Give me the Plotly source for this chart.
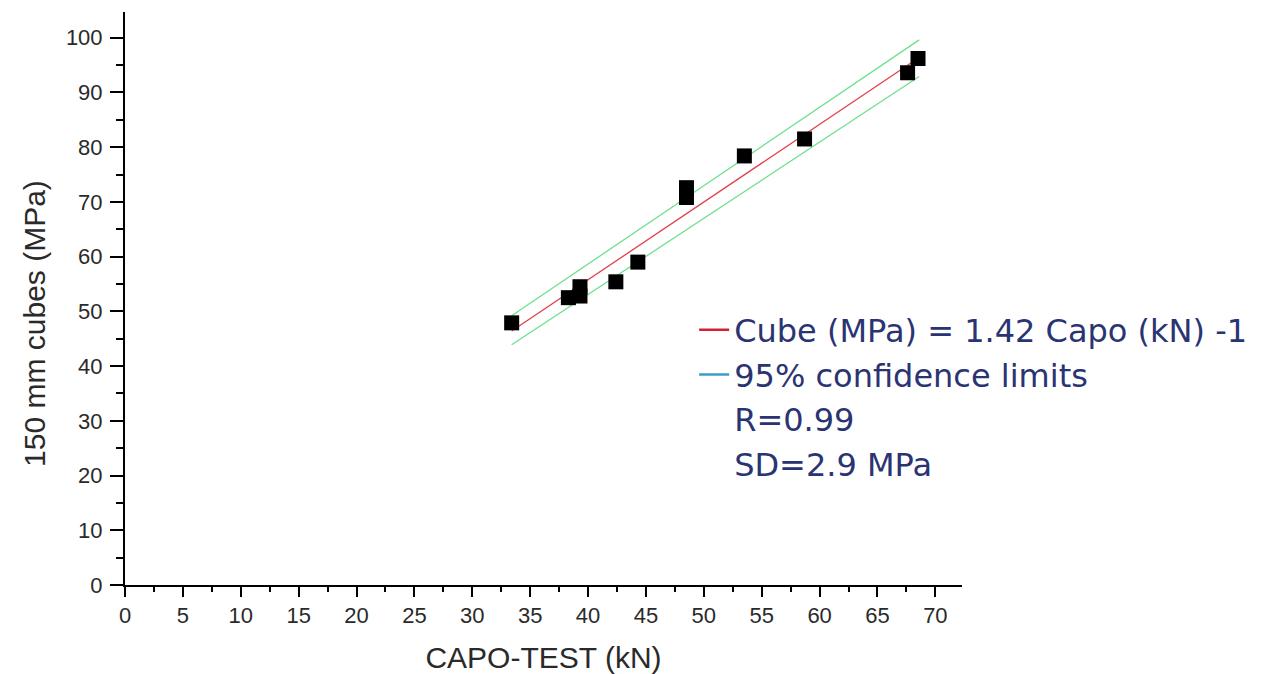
import plotly.graph_objects as go

# Data
capo_kn = [33.4, 38.3, 39.3, 39.3, 42.4, 44.3, 48.5, 48.5, 53.5, 58.7, 67.6, 68.5]
cube_mpa = [47.9, 52.5, 54.5, 52.8, 55.4, 59.0, 72.6, 70.8, 78.4, 81.5, 93.6, 96.2]

fit_x = [33.4, 68.6]
fit_y = [46.4, 96.4]
upper_y = [49.2, 99.6]
lower_y = [43.9, 92.9]

x_ticks = list(range(0, 71, 5))
y_ticks = list(range(0, 101, 10))

x_title = "CAPO-TEST (kN)"
y_title = "150 mm cubes (MPa)"
legend_fit = "Cube (MPa) = 1.42 Capo (kN) -1"
legend_conf = "95% confidence limits"
legend_r = "R=0.99"
legend_sd = "SD=2.9 MPa"

fig = go.Figure()

fig.add_trace(go.Scatter(x=fit_x, y=upper_y, mode="lines",
                         line=dict(color="#6ee08e", width=1.3), showlegend=False))
fig.add_trace(go.Scatter(x=fit_x, y=lower_y, mode="lines",
                         line=dict(color="#6ee08e", width=1.3), showlegend=False))
fig.add_trace(go.Scatter(x=fit_x, y=fit_y, mode="lines",
                         line=dict(color="#e0404c", width=1.3), showlegend=False))
fig.add_trace(go.Scatter(x=capo_kn, y=cube_mpa, mode="markers",
                         marker=dict(symbol="square", size=15, color="black"),
                         showlegend=False))

# legend entries
fig.add_trace(go.Scatter(x=[None], y=[None], mode="lines", name=legend_fit,
                         line=dict(color="#d42030", width=2.5)))
fig.add_trace(go.Scatter(x=[None], y=[None], mode="lines", name=legend_conf,
                         line=dict(color="#3a9cc8", width=2.5)))
fig.add_trace(go.Scatter(x=[None], y=[None], mode="lines", name=legend_r,
                         line=dict(color="rgba(0,0,0,0)", width=2)))
fig.add_trace(go.Scatter(x=[None], y=[None], mode="lines", name=legend_sd,
                         line=dict(color="rgba(0,0,0,0)", width=2)))

tick_font = dict(family="Liberation Sans, Arial", size=22, color="#2a2a2a")
title_font = dict(family="Liberation Sans, Arial", size=30, color="#2a2a2a")

axis_common = dict(
    showgrid=False, zeroline=False, showline=True, linecolor="black", linewidth=2,
    ticks="outside", tickwidth=2, tickcolor="black",
    tickfont=tick_font,
)

fig.update_xaxes(
    range=[0, 72.3], tickvals=x_ticks, ticktext=[str(v) for v in x_ticks],
    ticklen=10,
    title_text=x_title, title_font=title_font, title_standoff=22,
    minor=dict(dtick=2.5, tick0=0, ticks="outside", ticklen=5, tickwidth=2, tickcolor="black"),
    **axis_common,
)
fig.update_yaxes(
    range=[0, 104.7], tickvals=y_ticks, ticktext=[str(v) for v in y_ticks],
    ticklen=13, ticklabelstandoff=3,
    minor=dict(dtick=5, tick0=0, ticks="outside", ticklen=7, tickwidth=2, tickcolor="black"),
    **axis_common,
)

fig.add_annotation(
    text=y_title, xref="paper", yref="paper",
    x=-0.109, y=0.457, xanchor="center", yanchor="middle",
    textangle=-90, showarrow=False, font=title_font,
)

fig.update_layout(
    width=1273, height=666,
    margin=dict(l=117, r=319, t=4, b=89),
    plot_bgcolor="white", paper_bgcolor="white",
    legend=dict(
        x=0.680, y=0.493, xanchor="left", yanchor="top",
        font=dict(family="DejaVu Sans, Verdana", size=32, color="#2a3472"),
        bgcolor="rgba(0,0,0,0)", tracegroupgap=0, itemwidth=30,
    ),
)

fig.write_html("out.html")
